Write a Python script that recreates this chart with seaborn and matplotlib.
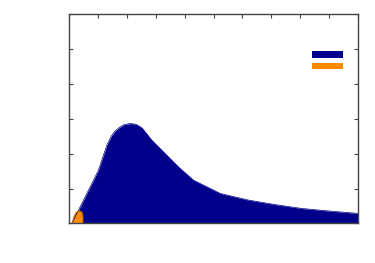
import matplotlib
matplotlib.use("Agg")
import matplotlib.pyplot as plt
from matplotlib.patches import Patch
import seaborn as sns
import pandas as pd

# Blue (dark-blue) filled curve
blue_x = [0.08, 0.5, 1.0, 1.12, 1.3, 1.45, 1.585, 1.75, 1.9, 2.1, 2.3, 2.51, 2.86,
          3.32, 3.78, 4.3, 5.23, 6.21, 7.14, 8.06, 9.1, 10.0]
blue_y = [0.0, 0.69, 1.52, 1.81, 2.25, 2.5, 2.65, 2.76, 2.83, 2.86, 2.84, 2.74, 2.38,
          2.0, 1.62, 1.24, 0.86, 0.67, 0.54, 0.43, 0.35, 0.29]

# Orange (dark-orange) filled curve
orange_x = [0.1, 0.13, 0.17, 0.22, 0.28, 0.34, 0.4, 0.44, 0.45]
orange_y = [0.0, 0.12, 0.22, 0.3, 0.345, 0.36, 0.34, 0.28, 0.2]

x_ticks = [0, 1, 2, 3, 4, 5, 6, 7, 8, 9, 10]
y_ticks = [0, 1, 2, 3, 4, 5, 6]

BLUE = "#00008b"
ORANGE = "#ff8c00"

sns.set_style("white")
fig = plt.figure(figsize=(3.75, 2.63), dpi=100)
ax = fig.add_axes([0.1853, 0.1502, 0.9539 - 0.1853, 0.9475 - 0.1502])

dfb = pd.DataFrame({"x": blue_x, "y": blue_y})
dfo = pd.DataFrame({"x": orange_x, "y": orange_y})

sns.lineplot(data=dfb, x="x", y="y", ax=ax, color=BLUE, lw=0.5, sort=False)
ax.fill_between(dfb["x"], 0, dfb["y"], color=BLUE, lw=0)
sns.lineplot(data=dfo, x="x", y="y", ax=ax, color="#c06a00", lw=0.8, sort=False)
ax.fill_between(dfo["x"], 0, dfo["y"], facecolor=ORANGE, edgecolor="#c06a00", lw=0.6)

ax.set_xlim(0, 10)
ax.set_ylim(0, 6)
ax.set_xticks(x_ticks)
ax.set_yticks(y_ticks)
ax.set_xticklabels([])
ax.set_yticklabels([])
ax.set_xlabel("")
ax.set_ylabel("")
ax.tick_params(direction="in", length=3, width=0.8, color="#444444",
               top=True, right=True, bottom=True, left=True)
for s in ax.spines.values():
    s.set_visible(True)
    s.set_color("#444444")
    s.set_linewidth(1.0)

handles = [Patch(facecolor=BLUE, edgecolor="none"), Patch(facecolor=ORANGE, edgecolor="none")]
ax.legend(handles, ["", ""], loc="upper left", bbox_to_anchor=(0.84, 0.825),
          frameon=False, fontsize=8, handlelength=2.8, handleheight=0.5,
          labelspacing=0.1, handletextpad=0, borderpad=0, borderaxespad=0)

fig.savefig("out.png", dpi=100)
